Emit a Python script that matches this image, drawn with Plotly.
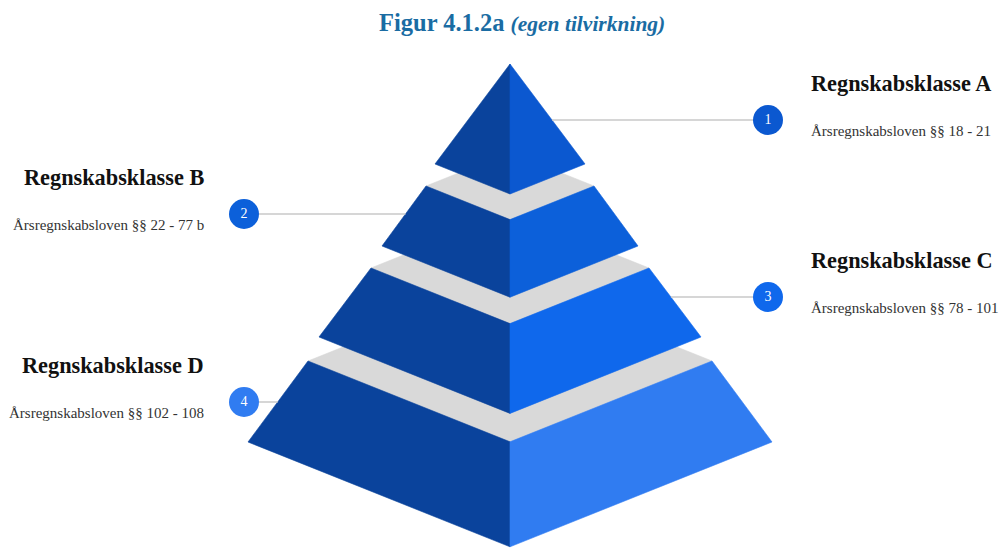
import plotly.graph_objects as go

# ---- data ----
categories = ["Regnskabsklasse A", "Regnskabsklasse B", "Regnskabsklasse C", "Regnskabsklasse D"]
subtitles = ["Årsregnskabsloven §§ 18 - 21", "Årsregnskabsloven §§ 22 - 77 b",
             "Årsregnskabsloven §§ 78 - 101", "Årsregnskabsloven §§ 102 - 108"]
numbers = ["1", "2", "3", "4"]
sides = ["right", "left", "right", "left"]

# ---- styles / geometry (pixel space) ----
right_colors = ["#0b58d0", "#0c60da", "#0f68ec", "#307cf1"]
left_color = "#0a439c"
grey = "#d9d9d9"
cx, k = 510, 0.4
tiers = [  # (y_top, hw_top, y_bottom, hw_bottom)
    (64, 0, 164, 75),
    (186, 84, 246, 128),
    (268, 139, 337, 191),
    (361, 202, 442, 262),
]
label_y = [120, 214, 297, 402]
FONT = "Liberation Serif, Times New Roman, serif"

fig = go.Figure()

def poly(pts, color):
    xs = [p[0] for p in pts] + [pts[0][0]]
    ys = [p[1] for p in pts] + [pts[0][1]]
    fig.add_trace(go.Scatter(x=xs, y=ys, mode="lines", fill="toself", fillcolor=color,
                             line=dict(color=color, width=0.6), hoverinfo="skip", showlegend=False))

for i in reversed(range(len(tiers))):
    yt, ht, yb, hb = tiers[i]
    if ht > 0:
        poly([(cx - ht, yt), (cx, yt + k * ht), (cx + ht, yt), (cx, yt - k * ht)], grey)
    poly([(cx - ht, yt), (cx, yt + k * ht), (cx, yb + k * hb), (cx - hb, yb)], left_color)
    poly([(cx + ht, yt), (cx, yt + k * ht), (cx, yb + k * hb), (cx + hb, yb)], right_colors[i])

annotations = []
for i in range(len(categories)):
    yt, ht, yb, hb = tiers[i]
    y = label_y[i]
    frac = (y - yt) / (yb - yt)
    hw = ht + (hb - ht) * frac
    if sides[i] == "right":
        xe, xc, xt, anc = cx + hw, 768, 809, "left"
    else:
        xe, xc, xt, anc = cx - hw, 244, 206, "right"
    fig.add_trace(go.Scatter(x=[xc, xe], y=[y, y], mode="lines",
                             line=dict(color="#c8c8c8", width=1.5), hoverinfo="skip", showlegend=False))
    fig.add_trace(go.Scatter(x=[xc], y=[y], mode="markers+text", text=[numbers[i]],
                             textposition="middle center",
                             marker=dict(size=30, color=right_colors[i], line=dict(width=0)),
                             textfont=dict(family=FONT, size=14, color="white"),
                             hoverinfo="skip", showlegend=False))
    annotations.append(dict(x=xt, y=y - 37, xref="x", yref="y", text="<b>" + categories[i] + "</b>",
                            showarrow=False, xanchor=anc, yanchor="middle",
                            font=dict(family=FONT, size=22.3, color="#111111")))
    annotations.append(dict(x=xt, y=y + 11, xref="x", yref="y", text=subtitles[i],
                            showarrow=False, xanchor=anc, yanchor="middle",
                            font=dict(family=FONT, size=15, color="#333333")))

annotations.append(dict(x=522, y=22, xref="x", yref="y",
                        text="<b>Figur 4.1.2a</b> <span style='font-size:21.5px'><b><i>(egen tilvirkning)</i></b></span>",
                        showarrow=False, xanchor="center", yanchor="middle",
                        font=dict(family=FONT, size=24.5, color="#1a6ca3")))

fig.update_layout(
    width=1000, height=548, autosize=False,
    margin=dict(l=0, r=0, t=0, b=0),
    paper_bgcolor="white", plot_bgcolor="white",
    xaxis=dict(range=[0, 1000], visible=False, fixedrange=True),
    yaxis=dict(range=[548, 0], visible=False, fixedrange=True),
    annotations=annotations,
    showlegend=False,
    hovermode=False,
)

fig.write_html("out.html", config={"displayModeBar": False},
               post_script="document.body.style.margin='0';document.body.style.overflow='hidden';")
